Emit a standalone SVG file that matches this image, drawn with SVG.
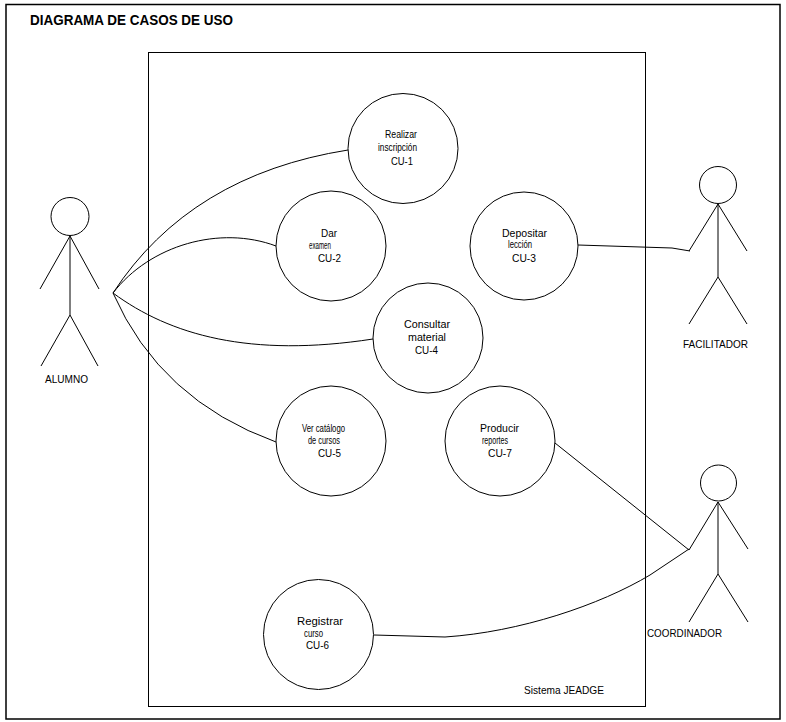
<svg xmlns="http://www.w3.org/2000/svg" width="786" height="722" viewBox="0 0 786 722">
<style>
.ln{fill:none;stroke:#000;stroke-width:1}
.uc{fill:#fff;stroke:#000;stroke-width:1}
.t{font-family:"Liberation Sans",Arial,sans-serif;font-size:11px;fill:#000}
.c{font-family:"Liberation Sans",Arial,sans-serif;font-size:11px;fill:#000}
.title{font-family:"Liberation Sans",Arial,sans-serif;font-size:15.5px;font-weight:bold;fill:#000}
</style>
<rect x="0" y="0" width="786" height="722" fill="#fff"/>
<rect id="frame" x="6" y="4.5" width="774" height="714.5" fill="none" stroke="#000" stroke-width="1.5"/>
<text class="title" x="30" y="25" textLength="203" lengthAdjust="spacingAndGlyphs">DIAGRAMA DE CASOS DE USO</text>
<g id="system">
<rect x="148.5" y="52.5" width="497" height="654" fill="none" stroke="#000" stroke-width="1"/>
<text class="t" x="524" y="694" textLength="80" lengthAdjust="spacingAndGlyphs">Sistema JEADGE</text>
</g>
<g id="connectors" class="ln">
<path d="M113,293 Q190,175 348,150"/>
<path d="M113,293 C150,245 220,225 276,246"/>
<path d="M113,293 C170,335 250,358 373,339"/>
<path d="M113,293 Q160,400 276,442"/>
<path d="M578,245 L672,248 L690,251"/>
<path d="M555,443 L689,550"/>
<path d="M374,635 L445,637 C520,632 600,605 650,575 L689,549"/>
</g>
<g id="cu1"><circle class="uc" cx="403" cy="148.5" r="55"/>
<text class="t" x="385" y="138" textLength="32" lengthAdjust="spacingAndGlyphs">Realizar</text>
<text class="c" x="378" y="151" textLength="39" lengthAdjust="spacingAndGlyphs">inscripción</text>
<text class="t" x="391" y="165" textLength="22" lengthAdjust="spacingAndGlyphs">CU-1</text></g>
<g id="cu2"><circle class="uc" cx="331" cy="246" r="55"/>
<text class="t" x="321" y="237" textLength="16" lengthAdjust="spacingAndGlyphs">Dar</text>
<text class="c" x="309" y="249" textLength="22" lengthAdjust="spacingAndGlyphs">examen</text>
<text class="t" x="318" y="262" textLength="23" lengthAdjust="spacingAndGlyphs">CU-2</text></g>
<g id="cu3"><circle class="uc" cx="524" cy="246" r="54"/>
<text class="t" x="502" y="237" textLength="45" lengthAdjust="spacingAndGlyphs">Depositar</text>
<text class="c" x="508" y="248" textLength="24" lengthAdjust="spacingAndGlyphs">lección</text>
<text class="t" x="512" y="262" textLength="24" lengthAdjust="spacingAndGlyphs">CU-3</text></g>
<g id="cu4"><circle class="uc" cx="428" cy="338" r="55"/>
<text class="t" x="404" y="328" textLength="46" lengthAdjust="spacingAndGlyphs">Consultar</text>
<text class="t" x="408" y="341" textLength="38" lengthAdjust="spacingAndGlyphs">material</text>
<text class="t" x="415" y="354" textLength="23" lengthAdjust="spacingAndGlyphs">CU-4</text></g>
<g id="cu5"><circle class="uc" cx="331" cy="441" r="55"/>
<text class="c" x="302" y="432" textLength="43" lengthAdjust="spacingAndGlyphs">Ver catálogo</text>
<text class="c" x="308" y="444" textLength="32" lengthAdjust="spacingAndGlyphs">de cursos</text>
<text class="t" x="318" y="457" textLength="23" lengthAdjust="spacingAndGlyphs">CU-5</text></g>
<g id="cu7"><circle class="uc" cx="500" cy="441" r="55"/>
<text class="t" x="480" y="432" textLength="39" lengthAdjust="spacingAndGlyphs">Producir</text>
<text class="c" x="482" y="444" textLength="26" lengthAdjust="spacingAndGlyphs">reportes</text>
<text class="t" x="488" y="457" textLength="24" lengthAdjust="spacingAndGlyphs">CU-7</text></g>
<g id="cu6"><circle class="uc" cx="318.5" cy="634.5" r="55"/>
<text class="t" x="297" y="625" textLength="46" lengthAdjust="spacingAndGlyphs">Registrar</text>
<text class="c" x="304" y="637" textLength="19" lengthAdjust="spacingAndGlyphs">curso</text>
<text class="t" x="306" y="649" textLength="23" lengthAdjust="spacingAndGlyphs">CU-6</text></g>
<g id="alumno" class="ln">
<circle cx="70" cy="216.5" r="19"/>
<path d="M70,236 L70,315 M70,236 L40,289 M70,236 L99,289 M70,315 L41,366 M70,315 L98,366"/>
<text class="t" x="45" y="383" textLength="43" lengthAdjust="spacingAndGlyphs" stroke="none">ALUMNO</text>
</g>
<g id="facilitador" class="ln">
<circle cx="718" cy="185" r="18.5"/>
<path d="M718,204 L718,277 M718,204 L689,251 M718,204 L747,251 M718,277 L689,324 M718,277 L747,324"/>
<text class="t" x="683" y="348" textLength="65" lengthAdjust="spacingAndGlyphs" stroke="none">FACILITADOR</text>
</g>
<g id="coordinador" class="ln">
<circle cx="718.5" cy="483" r="18"/>
<path d="M718,502 L718,574 M718,502 L689,550 M718,502 L748,549 M718,574 L689,622 M718,574 L748,622"/>
<text class="t" x="647" y="637" textLength="75" lengthAdjust="spacingAndGlyphs" stroke="none">COORDINADOR</text>
</g>
</svg>
